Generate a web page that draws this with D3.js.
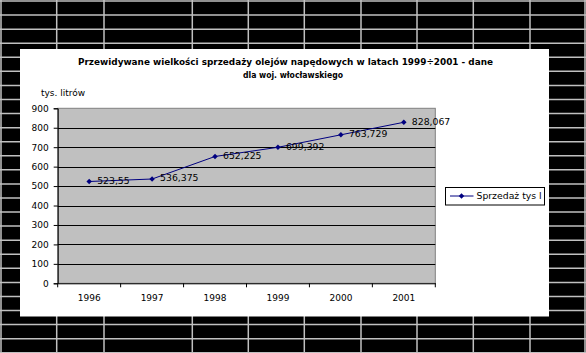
<!DOCTYPE html>
<html>
<head>
<meta charset="utf-8">
<script src="https://cdn.jsdelivr.net/npm/d3@7"></script>
<style>
  body { margin: 0; background: #000; }
  svg { display: block; }
  text { font-family: "DejaVu Sans", Verdana, sans-serif; fill: #000; }
</style>
</head>
<body>
<div id="chart"></div>
<script>
// chart data
const years = ['1996', '1997', '1998', '1999', '2000', '2001'];
const sales = [523.55, 536.375, 652.225, 699.392, 763.729, 828.067];
const yTicks = [0, 100, 200, 300, 400, 500, 600, 700, 800, 900];
const seriesName = 'Sprzedaż tys l';
const titleLines = ['Przewidywane wielkości sprzedaży olejów napędowych w latach 1999÷2001 - dane', 'dla woj. włocławskiego'];
const yLabel = 'tys. litrów';

const W = 586, H = 353;

const svg = d3.select('#chart')
  .append('svg')
  .attr('width', W)
  .attr('height', H);

// spreadsheet behind the chart
svg.append('rect').attr('width', W).attr('height', H).attr('fill', '#000');
const colLines = [1, 56.7, 104, 192.3, 248.3, 304.3, 361, 417, 473.3, 530, 585];
const rowLines = d3.range(26).map(i => 1 + i * 14.07);
svg.selectAll('.row')
  .data(rowLines)
  .join('line')
  .attr('x1', 0).attr('x2', W)
  .attr('y1', d => d).attr('y2', d => d)
  .attr('stroke', '#c0c0c0').attr('stroke-width', 1.5);
svg.selectAll('.col')
  .data(colLines)
  .join('line')
  .attr('x1', d => d).attr('x2', d => d)
  .attr('y1', 0).attr('y2', H)
  .attr('stroke', '#c0c0c0').attr('stroke-width', 1.5);

// chart area
svg.append('rect')
  .attr('x', 20).attr('y', 49)
  .attr('width', 529).attr('height', 267.5)
  .attr('fill', '#fff');

// title
const title = svg.append('g');
title.append('text')
  .attr('x', 285.5).attr('y', 65)
  .attr('text-anchor', 'middle')
  .attr('font-size', 9.3)
  .attr('font-weight', 'bold')
  .attr('textLength', 415)
  .attr('lengthAdjust', 'spacingAndGlyphs')
  .text(titleLines[0]);
title.append('text')
  .attr('x', 293).attr('y', 78)
  .attr('text-anchor', 'middle')
  .attr('font-size', 9.3)
  .attr('font-weight', 'bold')
  .attr('textLength', 100)
  .attr('lengthAdjust', 'spacingAndGlyphs')
  .text(titleLines[1]);

// scales
const x = d3.scaleBand()
  .domain(years)
  .range([57.7, 435.3]);

const y = d3.scaleLinear()
  .domain([0, 900])
  .range([283.3, 108.3]);

// plot area
svg.append('rect')
  .attr('x', x.range()[0]).attr('y', y(900))
  .attr('width', x.range()[1] - x.range()[0])
  .attr('height', y(0) - y(900))
  .attr('fill', '#c0c0c0')
  .attr('stroke', '#808080')
  .attr('stroke-width', 1);

svg.selectAll('.grid')
  .data(yTicks.filter(d => d > 0 && d < 900))
  .join('line')
  .attr('x1', x.range()[0]).attr('x2', x.range()[1])
  .attr('y1', d => Math.round(y(d)) + 0.5).attr('y2', d => Math.round(y(d)) + 0.5)
  .attr('stroke', '#000').attr('stroke-width', 1);

// axes
const yAxis = d3.axisLeft(y).tickValues(yTicks).tickSize(4).tickPadding(5);
svg.append('g')
  .attr('transform', `translate(${x.range()[0]},0)`)
  .call(yAxis)
  .call(g => g.selectAll('text').attr('font-size', 9).attr('font-family', 'DejaVu Sans').attr('fill', '#000'))
  .call(g => g.selectAll('line, path').attr('stroke', '#000'));

const xAxis = d3.axisBottom(x).tickSize(0).tickPadding(11).tickSizeOuter(0);
svg.append('g')
  .attr('transform', `translate(0,${y(0)})`)
  .call(xAxis)
  .call(g => g.selectAll('text').attr('font-size', 9).attr('font-family', 'DejaVu Sans').attr('fill', '#000'))
  .call(g => g.select('.domain').attr('stroke', '#000'));

// category boundary ticks
svg.selectAll('.xtick')
  .data(years.concat(['end']))
  .join('line')
  .attr('x1', (d, i) => x.range()[0] + i * x.step())
  .attr('x2', (d, i) => x.range()[0] + i * x.step())
  .attr('y1', y(0)).attr('y2', y(0) + 4)
  .attr('stroke', '#000');

// y label
svg.append('text')
  .attr('x', 41).attr('y', 96)
  .attr('font-size', 9)
  .text(yLabel);

// series line
const pts = years.map((d, i) => ({ year: d, value: sales[i] }));
const line = d3.line()
  .x(d => x(d.year) + x.bandwidth() / 2)
  .y(d => y(d.value));

svg.append('path')
  .datum(pts)
  .attr('d', line)
  .attr('fill', 'none')
  .attr('stroke', '#000080')
  .attr('stroke-width', 1);

const diamond = d3.symbol(d3.symbolSquare).size(15);
svg.selectAll('.pt')
  .data(pts)
  .join('path')
  .attr('d', diamond)
  .attr('transform', d => `translate(${x(d.year) + x.bandwidth() / 2},${y(d.value)}) rotate(45)`)
  .attr('fill', '#000080');

// data labels
const fmt = d3.formatLocale({ decimal: ',', thousands: ' ', grouping: [3], currency: ['', ''] }).format('~f');
svg.selectAll('.lbl')
  .data(pts)
  .join('text')
  .attr('x', d => x(d.year) + x.bandwidth() / 2 + 8)
  .attr('y', d => y(d.value) - 1)
  .attr('dy', '0.35em')
  .attr('font-size', 9.3)
  .text(d => fmt(d.value));

// legend
const legend = svg.append('g').attr('transform', 'translate(445.5,187.5)');
legend.append('rect')
  .attr('width', 99).attr('height', 17.5)
  .attr('fill', '#fff').attr('stroke', '#000').attr('stroke-width', 1);
legend.append('line')
  .attr('x1', 4.5).attr('x2', 28).attr('y1', 8.5).attr('y2', 8.5)
  .attr('stroke', '#000080');
legend.append('path')
  .attr('d', diamond)
  .attr('transform', 'translate(16,8.5) rotate(45)')
  .attr('fill', '#000080');
legend.append('text')
  .attr('x', 31).attr('y', 8.5)
  .attr('dy', '0.35em')
  .attr('font-size', 9.3)
  .text(seriesName);
</script>
</body>
</html>
